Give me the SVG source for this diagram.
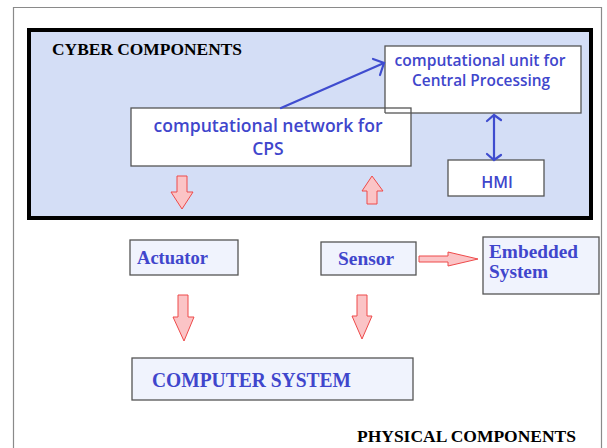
<svg xmlns="http://www.w3.org/2000/svg" width="607" height="448" viewBox="0 0 607 448">
<style>
.box{fill:#ffffff;stroke:#555555;stroke-width:1.3}
.pbox{fill:#f0f3fd;stroke:#555555;stroke-width:1.3}
.ctext{font-family:"Open Sans","Noto Sans",sans-serif;font-weight:600;fill:#4046cc;text-anchor:middle}
.stext{font-family:"Liberation Serif","Times New Roman",serif;font-weight:bold;fill:#4046cc}
.title{font-family:"Liberation Serif","Times New Roman",serif;font-weight:bold;fill:#000000;font-size:16.5px}
.blk{fill:#fbc4c6;stroke:#ee4a4a;stroke-width:1}
.blue{fill:none;stroke:#3f4ccf;stroke-width:2.2;stroke-linecap:round}
</style>
<rect x="0" y="0" width="607" height="448" fill="#ffffff"/>
<path d="M13.5 460 V7.5 H601.5 V460" fill="none" stroke="#8a8a8a" stroke-width="1.2"/>
<g id="cyber">
<rect x="29" y="30" width="562" height="188" fill="#d4def6" stroke="#000000" stroke-width="4"/>
<text class="title" x="52" y="55" textLength="190" lengthAdjust="spacingAndGlyphs">CYBER COMPONENTS</text>
</g>
<g id="unit">
<rect class="box" x="385" y="46" width="196" height="67"/>
<text class="ctext" x="480" y="66" font-size="15.5" textLength="171" lengthAdjust="spacingAndGlyphs">computational unit for</text>
<text class="ctext" x="481" y="86" font-size="15.5" textLength="138" lengthAdjust="spacingAndGlyphs">Central Processing</text>
</g>
<g id="network">
<rect class="box" x="131" y="108" width="280" height="58"/>
<line x1="385" y1="108" x2="385" y2="113" stroke="#555555" stroke-width="1.3"/>
<line x1="385" y1="113" x2="411" y2="113" stroke="#555555" stroke-width="1.3"/>
<text class="ctext" x="268" y="132" font-size="17.5" textLength="229" lengthAdjust="spacingAndGlyphs">computational network for</text>
<text class="ctext" x="268" y="155" font-size="17.5">CPS</text>
</g>
<g id="hmi">
<rect class="box" x="448" y="160" width="96" height="36"/>
<text class="ctext" x="497" y="188" font-size="16">HMI</text>
</g>
<g id="actuator">
<rect class="pbox" x="130" y="240" width="108" height="35"/>
<text class="stext" x="137" y="264" font-size="18.5" textLength="71" lengthAdjust="spacingAndGlyphs">Actuator</text>
</g>
<g id="sensor">
<rect class="pbox" x="321" y="242" width="95" height="33"/>
<text class="stext" x="338" y="265" font-size="18.5" textLength="56" lengthAdjust="spacingAndGlyphs">Sensor</text>
</g>
<g id="embedded">
<rect class="pbox" x="483" y="237" width="116" height="57"/>
<text class="stext" x="489" y="258" font-size="18.5" textLength="89" lengthAdjust="spacingAndGlyphs">Embedded</text>
<text class="stext" x="489" y="278" font-size="18.5" textLength="59" lengthAdjust="spacingAndGlyphs">System</text>
</g>
<g id="computer">
<rect class="pbox" x="132" y="358" width="281" height="42"/>
<text class="stext" x="152" y="387" font-size="20" textLength="199" lengthAdjust="spacingAndGlyphs">COMPUTER SYSTEM</text>
</g>
<g id="physical">
<text class="title" x="357" y="442" textLength="219" lengthAdjust="spacingAndGlyphs">PHYSICAL COMPONENTS</text>
</g>
<g id="connectors">
<line class="blue" x1="281" y1="108" x2="384" y2="63"/>
<polyline class="blue" points="373,59 384,63 380,75"/>
<line class="blue" x1="494" y1="116" x2="494" y2="159"/>
<polyline class="blue" points="487,121 494,115 501,120"/>
<polyline class="blue" points="487,154 494,160 501,155"/>
<polygon class="blk" points="177,176 187,176 187,192 193,192 182,209 171,192 177,192"/>
<polygon class="blk" points="367,204 377,204 377,191 383,191 372,176 362,191 367,191"/>
<polygon class="blk" points="178,295 188,295 188,317 194,317 184,341 173,317 178,317"/>
<polygon class="blk" points="357,295 367,295 367,316 372,316 362,339 352,316 357,316"/>
<polygon class="blk" points="419,256 448,256 448,252 478,259 448,266 448,262 419,262"/>
</g>
</svg>
